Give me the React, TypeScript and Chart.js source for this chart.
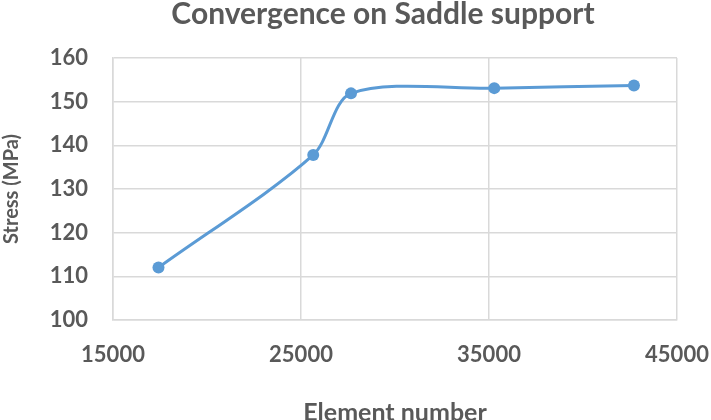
import React, { useEffect, useRef } from "react";
import { Chart, registerables } from "chart.js";

Chart.register(...registerables);

const chartTitle = "Convergence on Saddle support";
const elementCounts = [17420, 25650, 27660, 35280, 42710];
const stressValues = [112.0, 137.8, 151.9, 153.1, 153.7];
const xTicks = [15000, 25000, 35000, 45000];
const yTicks = [100, 110, 120, 130, 140, 150, 160];

const TEXT = "#595959";
const GRID = "#d9d9d9";
const FONT = "Lato, 'Open Sans', sans-serif";

const titlePlugin = {
  id: "excelTitle",
  afterDraw(chart: any) {
    const ctx = chart.ctx;
    ctx.save();
    ctx.fillStyle = TEXT;
    ctx.font = `bold 30px ${FONT}`;
    ctx.textAlign = "center";
    ctx.textBaseline = "alphabetic";
    ctx.fillText(chartTitle, 383, 24);
    ctx.restore();
  },
};

export default function App() {
  const ref = useRef<HTMLCanvasElement | null>(null);
  useEffect(() => {
    if (!ref.current) return;
    const chart = new Chart(ref.current, {
      type: "line",
      data: {
        datasets: [
          {
            label: "Stress",
            data: elementCounts.map((x, i) => ({ x, y: stressValues[i] })),
            borderColor: "#5b9bd5",
            backgroundColor: "#5b9bd5",
            borderWidth: 3,
            pointRadius: 6,
            pointBorderWidth: 0,
            tension: 0.3,
            cubicInterpolationMode: "default",
          },
        ],
      },
      plugins: [titlePlugin],
      options: {
        animation: false,
        responsive: false,
        layout: { padding: { left: 0, right: 0, top: 58, bottom: 0 } },
        plugins: {
          legend: { display: false },
          tooltip: { enabled: false },
          title: { display: false },
        },
        scales: {
          x: {
            type: "linear",
            min: xTicks[0],
            max: xTicks[xTicks.length - 1],
            afterBuildTicks: (s: any) => {
              s.ticks = xTicks.map((v) => ({ value: v }));
            },
            afterFit: (s: any) => {
              s.height = 100;
              s.paddingLeft = 0;
              s.paddingRight = 34;
            },
            grid: { color: GRID, lineWidth: 1.5, drawTicks: false },
            border: { color: GRID, width: 1.5 },
            ticks: {
              color: TEXT,
              font: { family: FONT, size: 22, weight: "bold" },
              padding: 22,
              maxRotation: 0,
              callback: (v: any) => String(v),
            },
            title: {
              display: true,
              text: "Element number",
              color: TEXT,
              font: { family: FONT, size: 25, weight: "bold", lineHeight: 1 },
              padding: { top: 0, bottom: -5 },
            },
          },
          y: {
            type: "linear",
            min: yTicks[0],
            max: yTicks[yTicks.length - 1],
            afterBuildTicks: (s: any) => {
              s.ticks = yTicks.map((v) => ({ value: v }));
            },
            afterFit: (s: any) => {
              s.width = 113;
              s.paddingTop = 0;
              s.paddingBottom = 0;
            },
            grid: { color: GRID, lineWidth: 1.5, drawTicks: false },
            border: { color: GRID, width: 1.5 },
            ticks: {
              color: TEXT,
              font: { family: FONT, size: 22, weight: "bold" },
              padding: 25,
              callback: (v: any) => String(v),
            },
            title: {
              display: true,
              text: "Stress (MPa)",
              color: TEXT,
              font: { family: FONT, size: 20, weight: "bold" },
              padding: { top: 0, bottom: 0 },
            },
          },
        },
      },
    } as any);
    return () => chart.destroy();
  }, []);
  return (
    <div style={{ position: "fixed", left: 0, top: 0, width: 711, height: 420, background: "#fff" }}>
      <canvas ref={ref} width={711} height={420} style={{ display: "block" }} />
    </div>
  );
}
